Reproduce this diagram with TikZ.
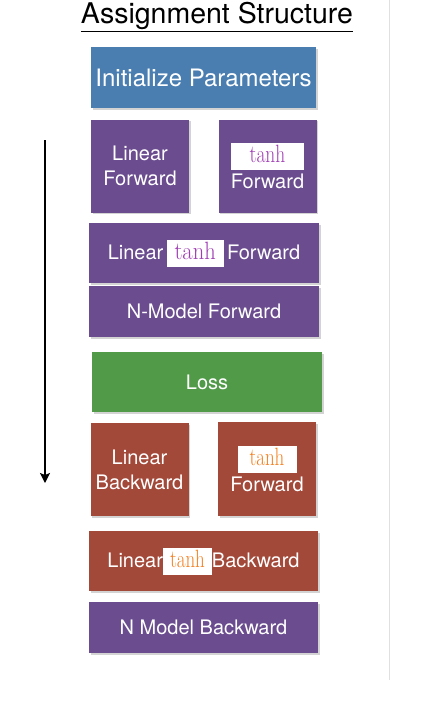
\documentclass[tikz,border=0pt]{standalone}
\usepackage{fontspec}
\setsansfont{TeX Gyre Heros}
\usepackage{xcolor}
\usepackage{graphicx}
\usetikzlibrary{arrows.meta,shadows,positioning}

\definecolor{initblue}{RGB}{74,126,177}
\definecolor{fwdpurple}{RGB}{106,76,143}
\definecolor{lossgreen}{RGB}{80,154,72}
\definecolor{bwdred}{RGB}{163,73,58}
\definecolor{tanhpurple}{RGB}{160,60,180}
\definecolor{tanhorange}{RGB}{245,128,30}

% white tag: colour, width, horizontal squeeze
\newcommand{\tanhtag}[3]{{\setlength{\fboxsep}{0pt}\colorbox{white}{\makebox[#2]{\rule[-7.5pt]{0pt}{27pt}\color{#1}\scalebox{#3}[1]{\rmfamily\fontsize{25}{25}\selectfont tanh}}}}}

\begin{document}
\begin{tikzpicture}[x=1pt,y=-1pt,
  block/.style={rectangle, inner sep=0pt, text=white, align=center,
    font=\sffamily\fontsize{20}{25}\selectfont,
    drop shadow={shadow xshift=1.5pt, shadow yshift=-1.5pt, opacity=0.35}},
  wide/.style={block, minimum width=229pt, minimum height=60pt},
  small/.style={block, minimum width=98pt, minimum height=93pt}]
  \useasboundingbox (0,0) rectangle (422,716);
  \draw[black!12, line width=1pt] (389,0) -- (389,680);

  \node (title) at (217,17) {\sffamily\fontsize{28.5}{30}\selectfont\underline{Assignment Structure}};

  \node[wide, fill=initblue, minimum width=225pt, minimum height=61pt,
        font=\sffamily\fontsize{24}{28}\selectfont] (init) at (203.5,77.5) {Initialize Parameters};

  % forward pass
  \node[small, fill=fwdpurple] (linfwd) at (140,166) {Linear\\Forward};
  \node[small, fill=fwdpurple] (tanhfwd) at (267.5,166) {\tanhtag{tanhpurple}{73pt}{0.78}\\[1pt]Forward};
  \node[wide, fill=fwdpurple, minimum width=230pt] (lintanhfwd) at (204,253)
        {Linear\,\tanhtag{tanhpurple}{57pt}{0.9}\,Forward};
  \node[wide, fill=fwdpurple, minimum width=230pt, minimum height=51pt] (nmodelfwd) at (204,311.5) {N-Model Forward};

  \node[wide, fill=lossgreen, minimum width=230pt] (loss) at (207,382) {Loss};

  % backward pass
  \node[small, fill=bwdred] (linbwd) at (139.5,469.5) {Linear\\Backward};
  \node[small, fill=bwdred, minimum height=94pt] (tanhbwd) at (267,469) {\tanhtag{tanhorange}{59pt}{0.76}\\[1pt]Forward};
  \node[wide, fill=bwdred] (lintanhbwd) at (203.5,561)
        {Linear\tanhtag{tanhorange}{49pt}{0.76}Backward};
  \node[wide, fill=fwdpurple, minimum height=51pt] (nmodelbwd) at (203.5,627.5) {N Model Backward};

  \coordinate (flowtop) at (45,140);
  \coordinate (flowbot) at (45,483);
  \draw[line width=1.5pt, -{Stealth[length=10pt, width=10pt, inset=2pt]}] (flowtop) -- (flowbot);
\end{tikzpicture}
\end{document}
